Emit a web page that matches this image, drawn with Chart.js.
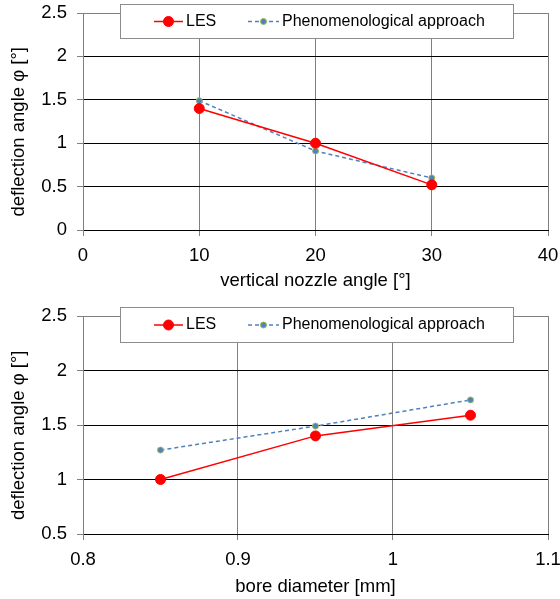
<!DOCTYPE html>
<html>
<head>
<meta charset="utf-8">
<script src="https://cdn.jsdelivr.net/npm/chart.js@4"></script>
<style>
  body { margin: 0; background: #fff; }
  #top { position: absolute; left: 0; top: 0; width: 560px; height: 295px; }
  #bot { position: absolute; left: 0; top: 295px; width: 560px; height: 304px; }
</style>
</head>
<body>
<div id="top"><canvas id="c1"></canvas></div>
<div id="bot"><canvas id="c2"></canvas></div>
<script>
// nozzle angle chart
var nozzleAngle = [10, 20, 30];
var lesNozzle = [1.4, 1.0, 0.52];
var phenNozzle = [1.49, 0.91, 0.6];

// bore diameter chart
var boreDiameter = [0.85, 0.95, 1.05];
var lesBore = [1.0, 1.4, 1.59];
var phenBore = [1.27, 1.49, 1.73];

var seriesNames = ["LES", "Phenomenological approach"];

var FONT = "'Liberation Sans', Arial, sans-serif";

function pts(xs, ys) {
    var out = [];
    for (var i in xs) out.push({x: xs[i], y: ys[i]});
    return out;
}

// excel style numbers: 1 not 1.0
function fmt(v) {
    return String(Math.round(v * 100) / 100);
}

// legend box drawn on top of the plot, like the excel one
var boxLegend = {
    id: 'boxLegend',
    afterDraw: function(chart, args, o) {
        var ctx = chart.ctx;
        ctx.save();
        ctx.fillStyle = '#fff';
        ctx.fillRect(o.x, o.y, o.w, o.h);
        ctx.strokeStyle = '#8c8c8c';
        ctx.lineWidth = 1;
        ctx.strokeRect(o.x + 0.5, o.y + 0.5, o.w, o.h);
        var cy = o.y + o.h / 2 + 0.5;
        chart.data.datasets.forEach(function(ds, i) {
            var it = o.items[i];
            ctx.strokeStyle = ds.borderColor;
            ctx.lineWidth = ds.borderWidth;
            ctx.setLineDash(ds.borderDash || []);
            ctx.beginPath();
            ctx.moveTo(it.x0, cy);
            ctx.lineTo(it.x1, cy);
            ctx.stroke();
            ctx.setLineDash([]);
            var mx = (it.x0 + it.x1) / 2;
            ctx.beginPath();
            ctx.arc(mx, cy, ds.pointRadius, 0, Math.PI * 2);
            ctx.fillStyle = ds.pointBackgroundColor;
            ctx.fill();
            ctx.lineWidth = ds.pointBorderWidth;
            ctx.strokeStyle = ds.pointBorderColor;
            ctx.stroke();
            ctx.fillStyle = '#000';
            ctx.font = '16px ' + FONT;
            ctx.textBaseline = 'middle';
            ctx.fillText(ds.label, it.tx, cy);
        });
        ctx.restore();
    }
};

function makeDatasets(les, phen, xs) {
    return [
        {
            label: seriesNames[0],
            data: pts(xs, les),
            borderColor: '#ff0000',
            backgroundColor: '#ff0000',
            borderWidth: 1.5,
            pointRadius: 5,
            pointBackgroundColor: '#ff0000',
            pointBorderColor: '#ff0000',
            pointBorderWidth: 1,
            tension: 0
        },
        {
            label: seriesNames[1],
            data: pts(xs, phen),
            borderColor: '#4f81bd',
            backgroundColor: '#4f81bd',
            borderWidth: 1.5,
            borderDash: [4, 3],
            pointRadius: 3,
            pointBackgroundColor: '#4f81bd',
            pointBorderColor: '#9bbb59',
            pointBorderWidth: 1,
            tension: 0
        }
    ];
}

function makeChart(id, xs, les, phen, xOpts, yOpts, xTitle, lay, legend) {
    var ctx = document.getElementById(id);
    return new Chart(ctx, {
        type: 'line',
        data: { datasets: makeDatasets(les, phen, xs) },
        plugins: [boxLegend],
        options: {
            responsive: true,
            maintainAspectRatio: false,
            animation: false,
            layout: { padding: { left: 0, right: 12, top: lay.top, bottom: 0 } },
            plugins: {
                legend: { display: false },
                tooltip: { enabled: false },
                boxLegend: legend
            },
            scales: {
                x: {
                    type: 'linear',
                    min: xOpts.min, max: xOpts.max,
                    afterFit: function(s) {
                        s.height = lay.xAxis;
                        s.paddingLeft = 0;
                        s.paddingRight = 0;
                    },
                    ticks: { stepSize: xOpts.step, color: '#000', padding: 9,
                             callback: fmt,
                             font: { family: FONT, size: 18.5 } },
                    grid: { color: '#808080', tickColor: '#808080', tickLength: 6, lineWidth: 1 },
                    border: { color: '#000' },
                    title: { display: true, text: xTitle, color: '#000',
                             padding: { top: 0, bottom: lay.titlePad },
                             font: { family: FONT, size: 18.5 } }
                },
                y: {
                    min: yOpts.min, max: yOpts.max,
                    afterFit: function(s) {
                        s.width = 83;
                        s.paddingTop = 0;
                        s.paddingBottom = 0;
                    },
                    ticks: { stepSize: 0.5, color: '#000', padding: 10,
                             callback: fmt,
                             font: { family: FONT, size: 18.5 } },
                    grid: {
                        color: function(c) { return c.tick.value === yOpts.max ? '#808080' : '#000'; },
                        tickColor: '#808080', tickLength: 6, lineWidth: 1
                    },
                    border: { color: '#808080' },
                    // trailing spaces push the text down a bit, as in the original
                    title: { display: true, text: 'deflection angle φ [°]    ', color: '#000',
                             padding: { top: 8, bottom: 0 },
                             font: { family: FONT, size: 18.5 } }
                }
            }
        }
    });
}

makeChart('c1', nozzleAngle, lesNozzle, phenNozzle,
    { min: 0, max: 40, step: 10 }, { min: 0, max: 2.5 },
    'vertical nozzle angle [°]',
    { top: 13, xAxis: 65, titlePad: 3 },
    { x: 120, y: 4, w: 393, h: 34,
      items: [{ x0: 154, x1: 183, tx: 186 }, { x0: 248, x1: 279, tx: 282 }] });

makeChart('c2', boreDiameter, lesBore, phenBore,
    { min: 0.8, max: 1.1, step: 0.1 }, { min: 0.5, max: 2.5 },
    'bore diameter [mm]',
    { top: 21, xAxis: 65, titlePad: 1 },
    { x: 120, y: 12, w: 393, h: 35,
      items: [{ x0: 154, x1: 183, tx: 186 }, { x0: 248, x1: 279, tx: 282 }] });
</script>
</body>
</html>
